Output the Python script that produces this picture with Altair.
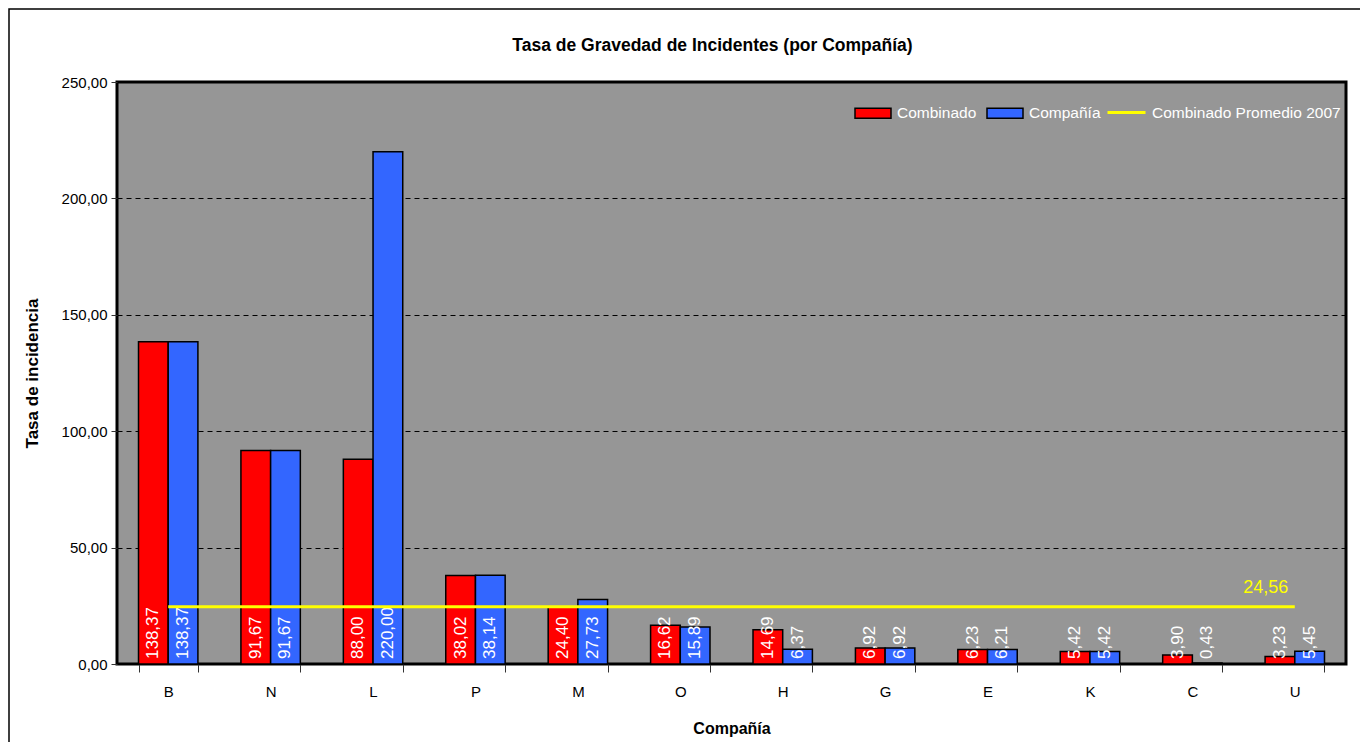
import altair as alt
import pandas as pd

# ---- data ----
companias = ["B", "N", "L", "P", "M", "O", "H", "G", "E", "K", "C", "U"]
combinado = [138.37, 91.67, 88.00, 38.02, 24.40, 16.62, 14.69, 6.92, 6.23, 5.42, 3.90, 3.23]
compania = [138.37, 91.67, 220.00, 38.14, 27.73, 15.89, 6.37, 6.92, 6.21, 5.42, 0.43, 5.45]
series = ["Combinado", "Compañía"]
series_colors = ["#FF0000", "#3366FF"]
promedio = 24.56
promedio_label = "Combinado Promedio 2007"
y_ticks = [0, 50, 100, 150, 200, 250]

rows = []
for i, c in enumerate(companias):
    rows.append({"cat": c, "serie": series[0], "valor": combinado[i]})
    rows.append({"cat": c, "serie": series[1], "valor": compania[i]})
df = pd.DataFrame(rows)
avg_df = pd.DataFrame({"cat": companias, "serie": promedio_label, "valor": promedio})
avg_lbl_df = pd.DataFrame({"cat": [companias[-1]], "valor": [promedio]})
frame_df = pd.DataFrame({"k": [0]})

FONT = "Liberation Sans, Arial, sans-serif"
W, H = 1229, 582
COMMA = "replace(format({v}, '.2f'), '.', ',')"

x_axis = alt.Axis(
    labelAngle=0, labelFont=FONT, labelFontSize=15, labelColor="black",
    tickBand="extent", tickSize=8, tickColor="#333333", tickWidth=1,
    labelPadding=12, domain=False,
    title="Compañía", titleFont=FONT, titleFontSize=16, titleFontWeight="bold",
    titleColor="black", titleY=64, titleBaseline="middle",
)
x_enc = alt.X("cat:N", sort=companias,
              scale=alt.Scale(paddingInner=0.42, paddingOuter=0.21),
              axis=x_axis)
xo_enc = alt.XOffset("serie:N", sort=series,
                     scale=alt.Scale(paddingInner=0, paddingOuter=0))

y_axis = alt.Axis(
    values=y_ticks, labelExpr=COMMA.format(v="datum.value"),
    labelFont=FONT, labelFontSize=15, labelColor="black", labelPadding=4,
    tickColor="#333333", tickSize=6, domain=False,
    grid=True, gridColor="black", gridDash=[5, 4], gridWidth=1,
    title="Tasa de incidencia", titleFont=FONT, titleFontSize=17,
    titleFontWeight="bold", titleColor="black",
    titleX=-85, titleY=H / 2, titleAngle=270, titleAlign="center",
    titleBaseline="middle",
)
y_scale = alt.Scale(domain=[0, 250], nice=False)

frame = alt.Chart(frame_df).mark_rect(
    fill="transparent", stroke="black", strokeWidth=1.5
).encode(x=alt.value(-108), x2=alt.value(1500), y=alt.value(-73), y2=alt.value(900))

bars = alt.Chart(df).mark_bar(stroke="black", strokeWidth=1.5).encode(
    x=x_enc,
    xOffset=xo_enc,
    y=alt.Y("valor:Q", scale=y_scale, axis=y_axis),
    color=alt.Color(
        "serie:N",
        scale=alt.Scale(domain=series, range=series_colors),
        legend=alt.Legend(
            orient="none", legendX=737, legendY=12, direction="horizontal",
            title=None, symbolType="M-1,-0.28H1V0.28H-1Z", symbolSize=1296,
            symbolStrokeColor="black", symbolStrokeWidth=1.5,
            labelFont=FONT, labelFontSize=15.5, labelColor="white",
            labelOffset=5, columnPadding=7, padding=0, labelLimit=300,
        ),
    ),
)

labels = alt.Chart(df).transform_calculate(
    label=COMMA.format(v="datum.valor")
).mark_text(
    angle=270, align="left", baseline="middle", dx=5,
    color="white", font=FONT, fontSize=17,
).encode(
    x=x_enc, xOffset=xo_enc, y=alt.datum(0), text="label:N"
)

line = alt.Chart(avg_df).mark_line(strokeWidth=3).encode(
    x=alt.X("cat:N", sort=companias),
    y=alt.Y("valor:Q"),
    color=alt.Color(
        "serie:N",
        scale=alt.Scale(domain=[promedio_label], range=["#FFFF00"]),
        legend=alt.Legend(
            orient="none", legendX=989, legendY=10, direction="horizontal",
            title=None, symbolType="stroke", symbolSize=1444,
            symbolStrokeWidth=3,
            labelFont=FONT, labelFontSize=15.5, labelColor="white",
            labelOffset=5, padding=0, labelLimit=300,
        ),
    ),
)

avg_label = alt.Chart(avg_lbl_df).transform_calculate(
    label=COMMA.format(v="datum.valor")
).mark_text(
    color="#FFFF00", font=FONT, fontSize=18, align="center",
    baseline="bottom", dx=-29, dy=-10,
).encode(x=alt.X("cat:N", sort=companias), y=alt.Y("valor:Q"), text="label:N")

chart = alt.layer(frame, bars, labels, line, avg_label).resolve_scale(
    color="independent"
).properties(
    width=W, height=H,
    title=alt.TitleParams(
        "Tasa de Gravedad de Incidentes (por Compañía)",
        font=FONT, fontSize=17.5, fontWeight="bold", color="black",
        anchor="middle", dx=-19, offset=-55, baseline="middle",
    ),
    autosize=alt.AutoSizeParams(type="none"),
    padding={"left": 109, "top": 74, "right": 14, "bottom": 78},
    background="white",
).configure_view(
    fill="#969696", stroke="black", strokeWidth=3
)

chart.save("out.html", embed_options={"renderer": "svg", "actions": False})
